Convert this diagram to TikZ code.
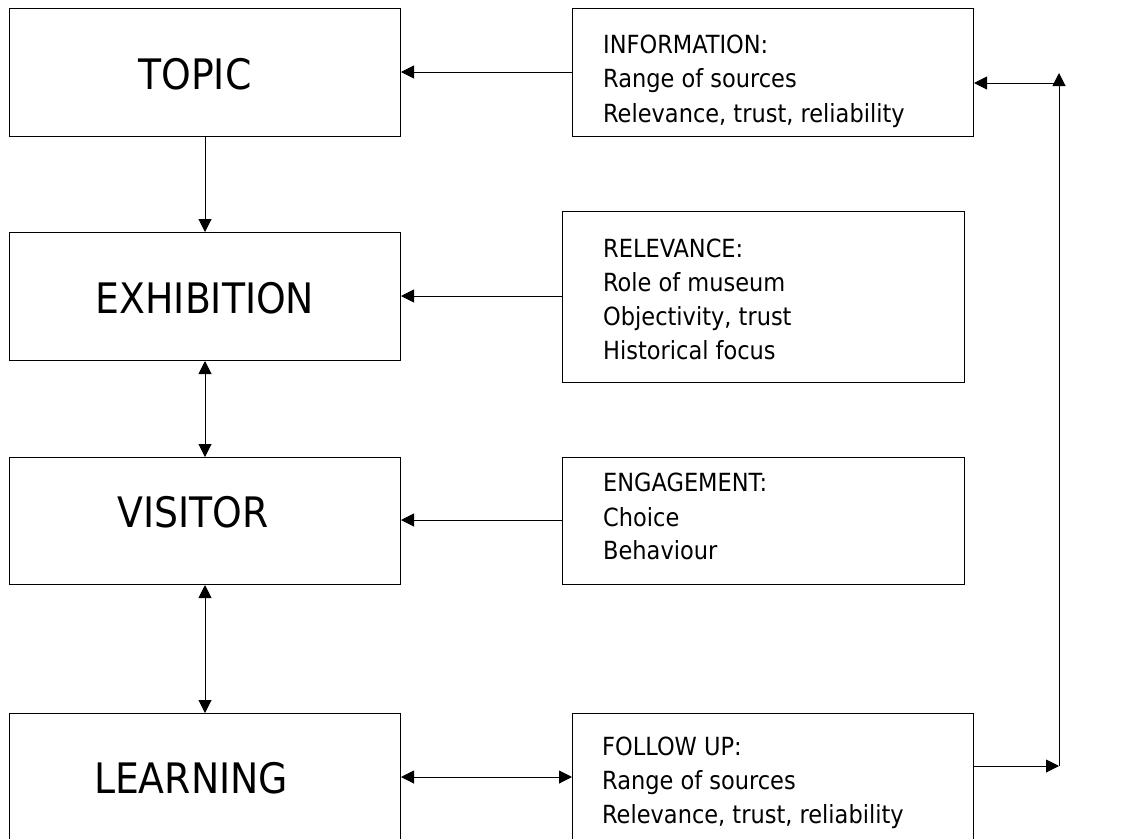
\documentclass[tikz,border=0pt]{standalone}
\usepackage{fontspec}
\setmainfont{DejaVu Sans Condensed}
\usetikzlibrary{arrows.meta}
\begin{document}
\begin{tikzpicture}[x=1pt,y=-1pt,
  box/.style={draw,line width=1pt,inner sep=0pt},
  big/.style={inner sep=0pt,anchor=base,font=\fontsize{42}{50}\selectfont},
  small/.style={inner sep=0pt,anchor=base west,font=\fontsize{25}{34}\selectfont},
  arr/.style={line width=1pt,-{Triangle[length=13pt,width=13pt]}},
  darr/.style={line width=1pt,{Triangle[length=13pt,width=13pt]}-{Triangle[length=13pt,width=13pt]}}]
\useasboundingbox (0,0) rectangle (1124,838);
\fill[white] (0,0) rectangle (1124,838);
% left column boxes
\node[box,minimum width=391pt,minimum height=128pt,anchor=north west] (topic) at (9,8) {};
\node[box,minimum width=391pt,minimum height=128pt,anchor=north west] (exhib) at (9,232) {};
\node[box,minimum width=391pt,minimum height=127pt,anchor=north west] (visit) at (9,457) {};
\node[box,minimum width=391pt,minimum height=140pt,anchor=north west] (learn) at (9,713) {};
\node[big] (ttopic) at (195,89) {TOPIC};
\node[big] (texhib) at (205,313) {EXHIBITION};
\node[big] (tvisit) at (193,527) {VISITOR};
\node[big] (tlearn) at (191,793) {LEARNING};
% right column boxes
\node[box,minimum width=401pt,minimum height=128pt,anchor=north west] (info) at (572,8) {};
\node[box,minimum width=402pt,minimum height=171pt,anchor=north west] (relev) at (562,211) {};
\node[box,minimum width=402pt,minimum height=127pt,anchor=north west] (engage) at (562,457) {};
\node[box,minimum width=401pt,minimum height=140pt,anchor=north west] (follow) at (572,713) {};
% texts
\node[small] (i1) at (603,53) {INFORMATION:};
\node[small] (i2) at (603,87) {Range of sources};
\node[small] (i3) at (603,122) {Relevance, trust, reliability};
\node[small] (r1) at (603,257) {RELEVANCE:};
\node[small] (r2) at (603,291) {Role of museum};
\node[small] (r3) at (603,325) {Objectivity, trust};
\node[small] (r4) at (603,359) {Historical focus};
\node[small] (e1) at (603,491) {ENGAGEMENT:};
\node[small] (e2) at (603,526) {Choice};
\node[small] (e3) at (603,559) {Behaviour};
\node[small] (f1) at (602,755) {FOLLOW UP:};
\node[small] (f2) at (602,789) {Range of sources};
\node[small] (f3) at (602,823) {Relevance, trust, reliability};
% connectors
\draw[arr] (info.west |- 0,72) -- (topic.east |- 0,72);
\draw[arr] (relev.west |- 0,296) -- (exhib.east |- 0,296);
\draw[arr] (engage.west |- 0,520) -- (visit.east |- 0,520);
\draw[darr] (learn.east |- 0,777) -- (follow.west |- 0,777);
\draw[arr] (topic.south) -- (exhib.north);
\draw[darr] (exhib.south) -- (visit.north);
\draw[darr] (visit.south) -- (learn.north);
\coordinate (cb) at (1059,766);
\coordinate (ct) at (1059,73);
\coordinate (cm) at (1059,83);
\draw[arr] (follow.east |- cb) -- (cb);
\draw[arr] (cb) -- (ct);
\draw[arr] (cm) -- (info.east |- cm);
\end{tikzpicture}
\end{document}
